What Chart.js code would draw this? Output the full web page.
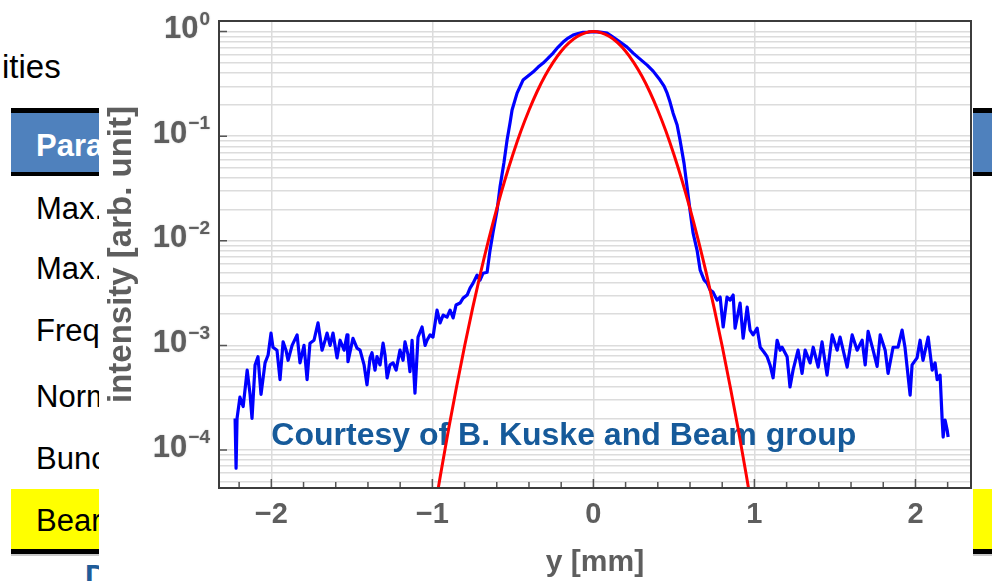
<!DOCTYPE html>
<html>
<head>
<meta charset="utf-8">
<script src="https://cdn.jsdelivr.net/npm/chart.js@4.4.1/dist/chart.umd.min.js"></script>
<style>
  html, body { margin: 0; padding: 0; background: #fff; }
  body { width: 992px; height: 581px; position: relative; overflow: hidden;
         font-family: "Liberation Sans", Arial, sans-serif; }
  .bar { position: absolute; left: 11px; right: 0; }
  .txt { position: absolute; font-size: 31px; line-height: 31px; white-space: nowrap; color: #000; }
  #plot { position: absolute; left: 99px; top: 0; width: 874px; height: 581px; background: #fff; }
</style>
</head>
<body>
  <!-- slide behind the figure: title fragment and parameter table -->
  <div class="txt" style="left:2px;top:50px;font-size:33px;line-height:33px;">ities</div>
  <div class="bar" style="top:108px;height:5px;background:#000;"></div>
  <div class="bar" style="top:113px;height:59px;background:#4f81bd;"></div>
  <div class="bar" style="top:172px;height:4px;background:#000;"></div>
  <div class="txt" style="left:36px;top:130px;color:#fff;font-weight:bold;">Para</div>
  <div class="txt" style="left:36px;top:193px;">Max.</div>
  <div class="txt" style="left:36px;top:253px;">Max.</div>
  <div class="txt" style="left:36px;top:315px;">Freq</div>
  <div class="txt" style="left:36px;top:381px;">Norm</div>
  <div class="txt" style="left:36px;top:443px;">Bunc</div>
  <div class="bar" style="top:489px;height:60px;background:#ffff00;"></div>
  <div class="bar" style="top:549px;height:5px;background:#000;"></div>
  <div class="bar" style="top:554px;height:2px;background:#c8c8c8;"></div>
  <div class="txt" style="left:36px;top:505px;">Bear</div>
  <div class="txt" style="left:85px;top:561px;color:#1f5c99;font-weight:bold;">D</div>

  <canvas id="plot" width="874" height="581"></canvas>

<script>
// Measured transverse beam profile (y in mm, normalised intensity)
const profileY = [
  -2.225, -2.219, -2.213, -2.195, -2.175, -2.150, -2.132, -2.120, -2.101, -2.083,
  -2.064, -2.039, -2.020, -2.002, -1.990, -1.965, -1.946, -1.927, -1.909, -1.896,
  -1.871, -1.840, -1.822, -1.797, -1.778, -1.760, -1.735, -1.710, -1.685, -1.666,
  -1.654, -1.635, -1.617, -1.592, -1.573, -1.548, -1.530, -1.524, -1.493, -1.468,
  -1.449, -1.424, -1.406, -1.387, -1.375, -1.356, -1.344, -1.325, -1.306, -1.294,
  -1.281, -1.263, -1.244, -1.225, -1.201, -1.182, -1.170, -1.151, -1.139, -1.126,
  -1.108, -1.089, -1.064, -1.045, -1.033, -1.014, -0.996, -0.971, -0.952, -0.933,
  -0.909, -0.890, -0.871, -0.853, -0.828, -0.809, -0.784, -0.766, -0.747, -0.722,
  -0.704, -0.685, -0.660, -0.642, -0.623, -0.598, -0.580, -0.555, -0.536, -0.517,
  -0.505, -0.474, -0.437, -0.406, -0.375, -0.343, -0.312, -0.281, -0.250, -0.219,
  -0.188, -0.157, -0.126, -0.095, -0.064, -0.033, 0.000, 0.042, 0.085, 0.122,
  0.166, 0.209, 0.247, 0.290, 0.334, 0.371, 0.414, 0.439, 0.458, 0.476,
  0.495, 0.520, 0.538, 0.563, 0.582, 0.600, 0.619, 0.644, 0.663, 0.688,
  0.706, 0.725, 0.743, 0.768, 0.787, 0.806, 0.830, 0.849, 0.868, 0.880,
  0.911, 0.930, 0.955, 0.973, 0.992, 1.017, 1.036, 1.060, 1.079, 1.097,
  1.116, 1.141, 1.160, 1.172, 1.203, 1.221, 1.240, 1.271, 1.296, 1.315,
  1.346, 1.365, 1.396, 1.420, 1.451, 1.483, 1.514, 1.532, 1.576, 1.607,
  1.638, 1.669, 1.688, 1.706, 1.737, 1.762, 1.781, 1.812, 1.830, 1.861,
  1.892, 1.917, 1.935, 1.967, 1.979, 2.010, 2.029, 2.047, 2.079, 2.104,
  2.122, 2.135, 2.153, 2.166, 2.172, 2.184, 2.197, 2.203
];
const profileIntensity = [
  2.0e-4, 6.7e-5, 2.0e-4, 3.2e-4, 2.6e-4, 5.8e-4, 3.4e-4, 2.0e-4, 6.5e-4, 7.8e-4,
  3.4e-4, 6.8e-4, 8.1e-4, 1.31e-3, 9.6e-4, 9.0e-4, 4.7e-4, 1.08e-3, 9.0e-4, 7.2e-4,
  1.0e-3, 1.26e-3, 6.8e-4, 1.0e-3, 4.7e-4, 1.05e-3, 1.12e-3, 1.64e-3, 9.0e-4, 1.12e-3,
  1.31e-3, 1.0e-3, 1.31e-3, 7.6e-4, 1.12e-3, 9.0e-4, 1.26e-3, 7.0e-4, 1.17e-3, 9.4e-4,
  9.0e-4, 6.5e-4, 4.2e-4, 7.6e-4, 8.5e-4, 5.8e-4, 7.8e-4, 6.5e-4, 1.05e-3, 8.1e-4,
  4.9e-4, 6.5e-4, 6.8e-4, 5.8e-4, 9.0e-4, 7.2e-4, 1.08e-3, 8.1e-4, 5.6e-4, 1.12e-3,
  3.5e-4, 1.2e-3, 1.5e-3, 1.0e-3, 1.12e-3, 1.26e-3, 1.2e-3, 2.17e-3, 1.64e-3, 1.95e-3,
  1.86e-3, 2.17e-3, 1.83e-3, 2.43e-3, 2.54e-3, 2.83e-3, 3.03e-3, 3.53e-3, 3.94e-3, 4.7e-3,
  4.2e-3, 4.9e-3, 5.0e-3, 8.1e-3, 1.21e-2, 1.96e-2, 3.26e-2, 5.65e-2, 9.2e-2, 0.136,
  0.178, 0.258, 0.344, 0.376, 0.410, 0.458, 0.500, 0.558, 0.623, 0.711,
  0.794, 0.867, 0.927, 0.960, 0.985, 0.990, 1.000, 0.990, 0.967, 0.886,
  0.794, 0.711, 0.623, 0.546, 0.478, 0.419, 0.344, 0.301, 0.258, 0.212,
  0.166, 0.128, 0.092, 0.055, 0.0326, 0.0196, 0.0119, 8.1e-3, 5.25e-3, 4.2e-3,
  3.94e-3, 3.38e-3, 3.23e-3, 2.71e-3, 2.9e-3, 1.5e-3, 2.9e-3, 2.71e-3, 3.03e-3, 1.46e-3,
  2.54e-3, 1.17e-3, 2.32e-3, 1.4e-3, 1.26e-3, 1.46e-3, 9.6e-4, 8.6e-4, 7.8e-4, 6.5e-4,
  4.9e-4, 1.12e-3, 9.0e-4, 9.6e-4, 7.8e-4, 4.0e-4, 5.8e-4, 9.0e-4, 5.4e-4, 9.0e-4,
  6.8e-4, 9.6e-4, 6.2e-4, 1.08e-3, 5.2e-4, 1.26e-3, 9.0e-4, 1.2e-3, 6.2e-4, 1.26e-3,
  9.0e-4, 1.12e-3, 6.5e-4, 1.36e-3, 9.0e-4, 6.3e-4, 1.26e-3, 9.0e-4, 5.4e-4, 9.6e-4,
  9.6e-4, 1.4e-3, 9.6e-4, 3.35e-4, 6.5e-4, 7.6e-4, 1.12e-3, 7.2e-4, 1.2e-3, 5.8e-4,
  6.8e-4, 4.7e-4, 5.2e-4, 1.93e-4, 1.33e-4, 1.93e-4, 1.55e-4, 1.33e-4
];

// Gaussian core fit (y in mm, normalised intensity)
const fitY = [
  -1.00, -0.95, -0.90, -0.85, -0.80, -0.75, -0.70, -0.65, -0.60, -0.55, -0.50,
  -0.45, -0.40, -0.35, -0.30, -0.25, -0.20, -0.15, -0.10, -0.05, 0.00,
  0.05, 0.10, 0.15, 0.20, 0.25, 0.30, 0.35, 0.40, 0.45, 0.50,
  0.55, 0.60, 0.65, 0.70, 0.75, 0.80, 0.85, 0.90, 0.95, 1.00
];
const fitIntensity = [
  2.0e-5, 5.7e-5, 1.56e-4, 4.0e-4, 9.8e-4, 2.27e-3, 4.98e-3, 1.03e-2, 2.03e-2, 3.79e-2, 6.68e-2,
  0.112, 0.177, 0.266, 0.378, 0.508, 0.649, 0.784, 0.897, 0.973, 1.000,
  0.973, 0.897, 0.784, 0.649, 0.508, 0.378, 0.266, 0.177, 0.112, 6.68e-2,
  3.79e-2, 2.03e-2, 1.03e-2, 4.98e-3, 2.27e-3, 9.8e-4, 4.0e-4, 1.56e-4, 5.7e-5, 2.0e-5
];

// Axis ticks
const xTickValues = [-2, -1, 0, 1, 2];
const xMinorTicks = [-2.2, -1.8, -1.6, -1.4, -1.2, -0.8, -0.6, -0.4, -0.2,
                     0.2, 0.4, 0.6, 0.8, 1.2, 1.4, 1.6, 1.8, 2.2];
const yDecadeExponents = [0, -1, -2, -3, -4];
const yMantissas = [1, 2, 3, 4, 5, 6, 7, 8, 9];

const xRange = [-2.325, 2.345];
const yRange = [4.33e-5, 1.263];

const creditText = 'Courtesy of B. Kuske and Beam group';
const xTitle = 'y [mm]';
const yTitle = 'intensity [arb. unit]';

const FONT = '"Liberation Sans", Arial, sans-serif';
const axisGray = '#5e5e5e';
const gridGray = '#dcdcdc';
const frameGray = '#3c3c3c';

const yGridValues = [];
yDecadeExponents.concat([-5]).forEach(e => {
  yMantissas.forEach(m => {
    const v = m * Math.pow(10, e);
    if (v >= yRange[0] && v <= yRange[1]) yGridValues.push(v);
  });
});

const toPoints = (xs, ys) => xs.map((x, i) => ({ x, y: ys[i] }));
const minusSign = v => (v < 0 ? '\u2212' + Math.abs(v) : String(v));

const frameAndLabels = {
  id: 'frameAndLabels',
  beforeDatasetsDraw(chart) {
    const { ctx, chartArea: a, scales: { x } } = chart;
    ctx.save();
    ctx.font = 'bold 32px ' + FONT;
    ctx.fillStyle = '#165a9a';
    ctx.textAlign = 'left';
    ctx.textBaseline = 'alphabetic';
    ctx.fillText(creditText, x.getPixelForValue(-2), a.bottom - 43);
    ctx.restore();
  },
  afterDraw(chart) {
    const { ctx, chartArea: a, scales: { x, y } } = chart;
    ctx.save();
    // inward tick marks
    ctx.strokeStyle = '#555';
    ctx.lineWidth = 1.5;
    ctx.beginPath();
    xTickValues.forEach(v => {
      const px = x.getPixelForValue(v);
      ctx.moveTo(px, a.bottom); ctx.lineTo(px, a.bottom - 9);
    });
    xMinorTicks.forEach(v => {
      const px = x.getPixelForValue(v);
      ctx.moveTo(px, a.bottom); ctx.lineTo(px, a.bottom - 6);
    });
    yDecadeExponents.forEach(e => {
      const py = y.getPixelForValue(Math.pow(10, e));
      ctx.moveTo(a.left, py); ctx.lineTo(a.left + 8, py);
    });
    ctx.stroke();

    // frame
    ctx.strokeStyle = frameGray;
    ctx.lineWidth = 2;
    ctx.strokeRect(a.left, a.top, a.right - a.left, a.bottom - a.top);

    // decade labels 10^n
    ctx.fillStyle = axisGray;
    ctx.textAlign = 'right';
    ctx.textBaseline = 'middle';
    ctx.shadowColor = 'rgba(90,90,90,0.45)';
    ctx.shadowBlur = 1.5;
    yDecadeExponents.forEach(e => {
      const py = y.getPixelForValue(Math.pow(10, e));
      const xr = a.left - 9;
      const expText = minusSign(e);
      ctx.font = 'bold 19px ' + FONT;
      ctx.fillText(expText, xr, py - 12);
      const w = ctx.measureText(expText).width;
      ctx.font = 'bold 31px ' + FONT;
      ctx.fillText('10', xr - w - 1, py - 2);
    });
    ctx.restore();
  }
};

new Chart(document.getElementById('plot'), {
  type: 'scatter',
  data: {
    datasets: [
      {
        label: 'fit',
        data: toPoints(fitY, fitIntensity),
        showLine: true,
        borderColor: '#ff0000',
        borderWidth: 3,
        pointRadius: 0,
        cubicInterpolationMode: 'monotone'
      },
      {
        label: 'profile',
        data: toPoints(profileY, profileIntensity),
        showLine: true,
        borderColor: '#0000ff',
        borderWidth: 3.2,
        borderJoinStyle: 'round',
        pointRadius: 0,
        tension: 0
      }
    ]
  },
  options: {
    responsive: false,
    maintainAspectRatio: false,
    animation: false,
    devicePixelRatio: 1,
    layout: { padding: { top: 21, right: 2, left: 0, bottom: 0 } },
    plugins: { legend: { display: false }, tooltip: { enabled: false } },
    scales: {
      x: {
        type: 'linear',
        min: xRange[0],
        max: xRange[1],
        afterBuildTicks: s => { s.ticks = xTickValues.map(v => ({ value: v })); },
        afterFit: s => { s.height = 93; },
        grid: { color: gridGray, lineWidth: 1.5, drawTicks: false },
        border: { display: false },
        ticks: {
          padding: 10,
          color: axisGray,
          font: { family: FONT, size: 29, weight: 'bold' },
          callback: v => minusSign(v)
        },
        title: {
          display: true,
          text: xTitle,
          color: axisGray,
          font: { family: FONT, size: 30, weight: 'bold' },
          padding: { top: 0, bottom: 0 }
        }
      },
      y: {
        type: 'logarithmic',
        min: yRange[0],
        max: yRange[1],
        afterBuildTicks: s => { s.ticks = yGridValues.map(v => ({ value: v })); },
        afterFit: s => { s.width = 120; },
        grid: { color: gridGray, lineWidth: 1.5, drawTicks: false },
        border: { display: false },
        ticks: { display: false },
        title: {
          display: true,
          text: yTitle,
          color: axisGray,
          font: { family: FONT, size: 33, weight: 'bold' },
          padding: { top: 3, bottom: 0 }
        }
      }
    }
  },
  plugins: [frameAndLabels]
});
</script>
</body>
</html>
